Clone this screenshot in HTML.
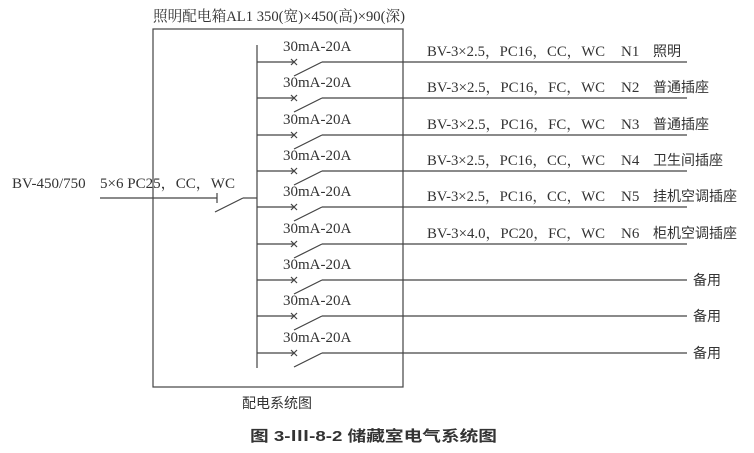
<!DOCTYPE html>
<html><head><meta charset="utf-8"><style>
html,body{margin:0;padding:0;background:#fff;}
svg{display:block;}
.s{font-family:"Liberation Serif","Noto Serif CJK SC",serif;font-size:15px;fill:#333;}
.c{font-family:"Liberation Sans","Noto Sans CJK SC",sans-serif;font-size:14px;fill:#333;}
</style></head><body>
<svg width="754" height="453" viewBox="0 0 754 453" xmlns="http://www.w3.org/2000/svg">
<defs>
<g id="br" stroke="#444" stroke-width="1.2" fill="none">
<line x1="257" y1="0" x2="294" y2="0"/>
<line x1="291" y1="-3" x2="297" y2="3"/>
<line x1="291" y1="3" x2="297" y2="-3"/>
<line x1="294" y1="14" x2="322" y2="0"/>
<line x1="322" y1="0" x2="687" y2="0"/>
</g>
</defs>
<g stroke="#444" stroke-width="1.2" fill="none">
<rect x="153" y="29" width="250" height="358"/>
<line x1="257" y1="45" x2="257" y2="368"/>
<line x1="100" y1="198" x2="217" y2="198"/>
<line x1="217" y1="193" x2="217" y2="203"/>
<line x1="215" y1="212" x2="243" y2="198"/>
<line x1="243" y1="198" x2="257" y2="198"/>
</g>
<text class="s" x="153" y="21" textLength="252" lengthAdjust="spacingAndGlyphs">照明配电箱AL1 350(宽)×450(高)×90(深)</text>
<text class="s" x="12" y="188">BV-450/750</text>
<text class="s" x="100" y="188" textLength="135" lengthAdjust="spacingAndGlyphs">5×6 PC25，CC，WC</text>

<use href="#br" y="62"/><use href="#br" y="98"/><use href="#br" y="135"/>
<use href="#br" y="171"/><use href="#br" y="207"/><use href="#br" y="244"/>
<use href="#br" y="280"/><use href="#br" y="316"/><use href="#br" y="353"/>

<text class="s" x="283" y="51">30mA-20A</text>
<text class="s" x="283" y="87">30mA-20A</text>
<text class="s" x="283" y="124">30mA-20A</text>
<text class="s" x="283" y="160">30mA-20A</text>
<text class="s" x="283" y="196">30mA-20A</text>
<text class="s" x="283" y="233">30mA-20A</text>
<text class="s" x="283" y="269">30mA-20A</text>
<text class="s" x="283" y="305">30mA-20A</text>
<text class="s" x="283" y="342">30mA-20A</text>

<text class="s" x="427" y="56" textLength="178" lengthAdjust="spacingAndGlyphs">BV-3×2.5，PC16，CC，WC</text><text class="s" x="621" y="56">N1</text><text class="c" x="653" y="56">照明</text>
<text class="s" x="427" y="92" textLength="178" lengthAdjust="spacingAndGlyphs">BV-3×2.5，PC16，FC，WC</text><text class="s" x="621" y="92">N2</text><text class="c" x="653" y="92">普通插座</text>
<text class="s" x="427" y="129" textLength="178" lengthAdjust="spacingAndGlyphs">BV-3×2.5，PC16，FC，WC</text><text class="s" x="621" y="129">N3</text><text class="c" x="653" y="129">普通插座</text>
<text class="s" x="427" y="165" textLength="178" lengthAdjust="spacingAndGlyphs">BV-3×2.5，PC16，CC，WC</text><text class="s" x="621" y="165">N4</text><text class="c" x="653" y="165">卫生间插座</text>
<text class="s" x="427" y="201" textLength="178" lengthAdjust="spacingAndGlyphs">BV-3×2.5，PC16，CC，WC</text><text class="s" x="621" y="201">N5</text><text class="c" x="653" y="201">挂机空调插座</text>
<text class="s" x="427" y="238" textLength="178" lengthAdjust="spacingAndGlyphs">BV-3×4.0，PC20，FC，WC</text><text class="s" x="621" y="238">N6</text><text class="c" x="653" y="238">柜机空调插座</text>

<text class="c" x="693" y="285">备用</text>
<text class="c" x="693" y="321">备用</text>
<text class="c" x="693" y="358">备用</text>

<text class="c" x="242" y="408">配电系统图</text>
<text x="250" y="441" textLength="247" lengthAdjust="spacingAndGlyphs" style="font-family:'Liberation Sans','Noto Sans CJK SC',sans-serif;font-size:15px;font-weight:bold;fill:#333">图 3-Ⅲ-8-2  储藏室电气系统图</text>
</svg>
</body></html>
